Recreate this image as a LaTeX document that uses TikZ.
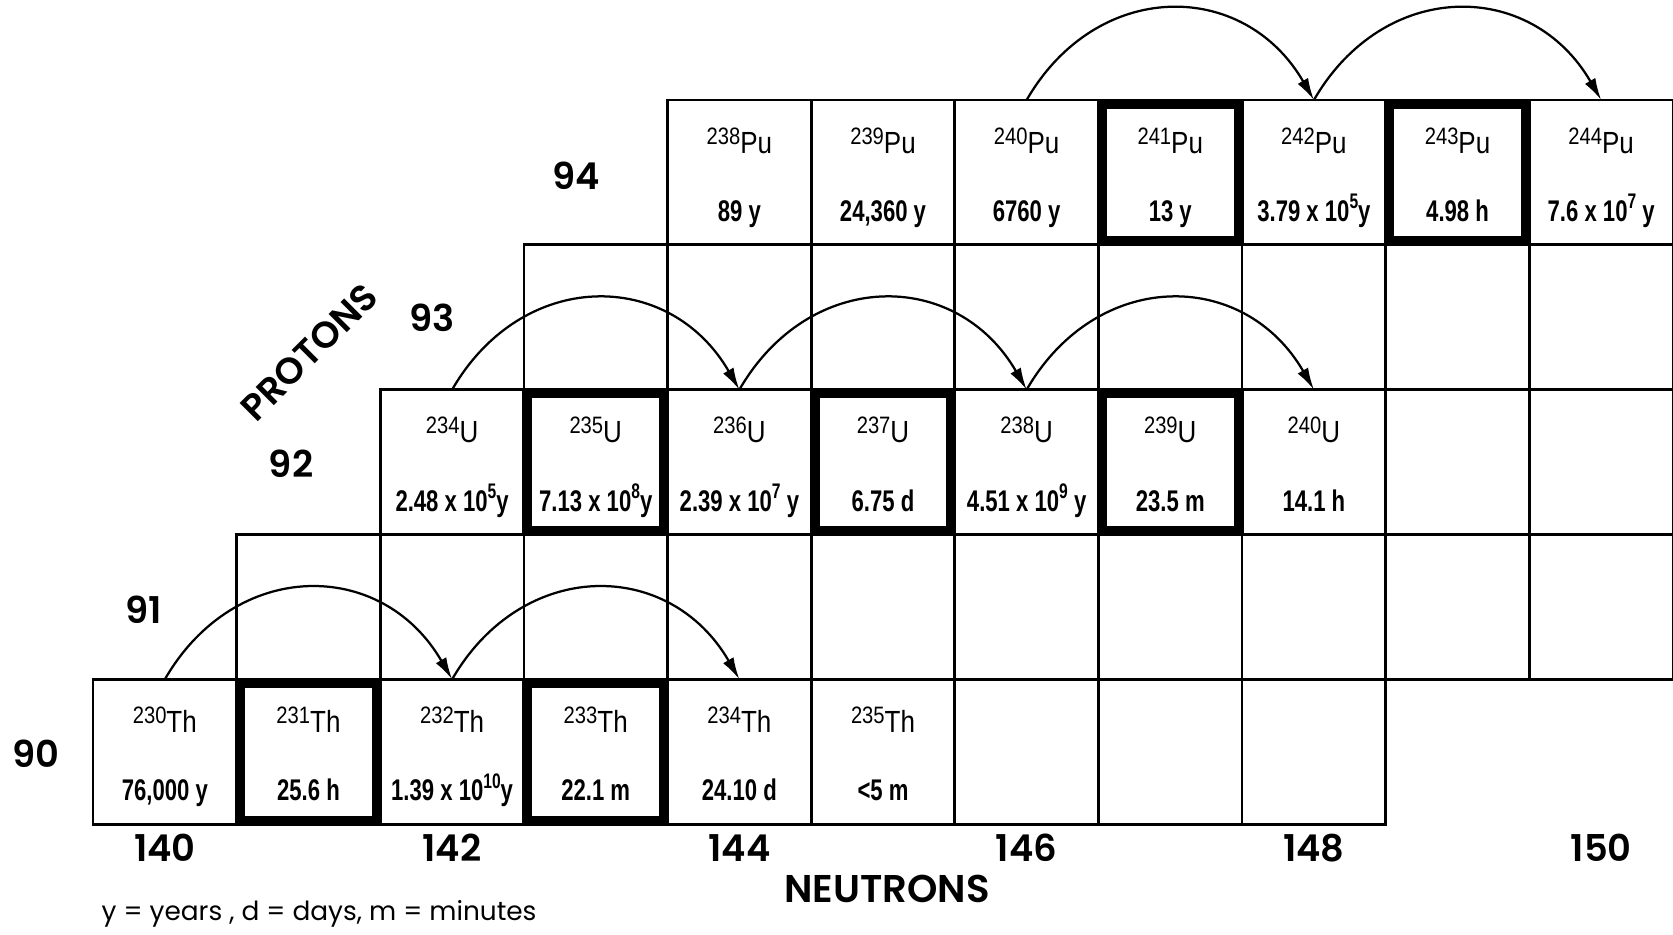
\documentclass[tikz,border=0pt]{standalone}
\usepackage{fontspec}
\setmainfont{Poppins}
\newfontfamily\axisfont{Poppins SemiBold}
\newfontfamily\isofont[FakeStretch=0.85]{Liberation Sans}
\newfontfamily\lifefont[FakeStretch=0.74]{Liberation Sans}
\usetikzlibrary{arrows.meta,positioning}

\newcommand{\massno}[1]{\raisebox{1.8mm}{\fontsize{13.5}{14}\selectfont #1}}
\newcommand{\tenpow}[1]{\raisebox{2.5mm}{\fontsize{12}{12}\selectfont #1}}

\begin{document}
\begin{tikzpicture}[
    cell/.style={rectangle, draw, line width=0.55mm, minimum width=2.872cm, minimum height=2.896cm, inner sep=0, outer sep=0},
    thickcell/.style={rectangle, draw, line width=2mm, minimum width=2.872cm-1.4mm, minimum height=2.896cm-1.4mm, inner sep=0, outer sep=0},
    iso/.style={anchor=base, inner sep=0, font=\isofont\fontsize{17.4}{18}\selectfont},
    life/.style={anchor=base, inner sep=0, font=\lifefont\bfseries\fontsize{17}{18}\selectfont},
    axisnum/.style={font=\axisfont\fontsize{21}{24}\selectfont},
    capture/.style={-{Latex[length=4.4mm,width=2.4mm]}, line width=0.45mm}
]
\useasboundingbox (-1.86,-2.2) rectangle (31.592,16.48);

% the chart, one row per element
\foreach \z/\first/\last in {90/140/148, 91/141/150, 92/142/150, 93/143/150, 94/144/150}
  \foreach \n in {\first,...,\last}
    \node[cell] (c\z-\n) at ({(\n-139.5)*2.872}, {(\z-89.5)*2.896}) {};

% odd neutron numbers get a heavy frame
\foreach \c in {90-141, 90-143, 92-143, 92-145, 92-147, 94-147, 94-149}
  \node[thickcell] (t\c) at (c\c) {};

% thorium
\foreach \n/\a/\t in {140/230/{76,000 y}, 141/231/{25.6 h}, 142/232/{1.39 x 10\tenpow{10}y},
                      143/233/{22.1 m}, 144/234/{24.10 d}, 145/235/{<5 m}} {
  \node[iso] (Th\a) at ([yshift=-1.06cm]c90-\n.north) {\massno{\a}Th};
  \node[life] (Th\a-t) at ([yshift=0.47cm]c90-\n.south) {\t};
}

% uranium
\foreach \n/\a/\t in {142/234/{2.48 x 10\tenpow{5}y}, 143/235/{7.13 x 10\tenpow{8}y}, 144/236/{2.39 x 10\tenpow{7} y},
                      145/237/{6.75 d}, 146/238/{4.51 x 10\tenpow{9} y}, 147/239/{23.5 m}, 148/240/{14.1 h}} {
  \node[iso] (U\a) at ([yshift=-1.06cm]c92-\n.north) {\massno{\a}U};
  \node[life] (U\a-t) at ([yshift=0.47cm]c92-\n.south) {\t};
}

% plutonium
\foreach \n/\a/\t in {144/238/{89 y}, 145/239/{24,360 y}, 146/240/{6760 y}, 147/241/{13 y},
                      148/242/{3.79 x 10\tenpow{5}y}, 149/243/{4.98 h}, 150/244/{7.6 x 10\tenpow{7} y}} {
  \node[iso] (Pu\a) at ([yshift=-1.06cm]c94-\n.north) {\massno{\a}Pu};
  \node[life] (Pu\a-t) at ([yshift=0.47cm]c94-\n.south) {\t};
}

% neutron captures
\draw[capture] (c90-140.north) to[out=60, in=120, looseness=1.25] (c90-142.north);
\draw[capture] (c90-142.north) to[out=60, in=120, looseness=1.25] (c90-144.north);
\draw[capture] (c92-142.north) to[out=60, in=120, looseness=1.25] (c92-144.north);
\draw[capture] (c92-144.north) to[out=60, in=120, looseness=1.25] (c92-146.north);
\draw[capture] (c92-146.north) to[out=60, in=120, looseness=1.25] (c92-148.north);
\draw[capture] (c94-146.north) to[out=60, in=120, looseness=1.25] (c94-148.north);
\draw[capture] (c94-148.north) to[out=60, in=120, looseness=1.25] (c94-150.north);

% axes
\node[axisnum] (z90) at (-1.14,1.40) {90};
\node[axisnum] (z91) at (1.02,4.28) {91};
\node[axisnum] (z92) at (3.96,7.20) {92};
\node[axisnum] (z93) at (6.78,10.12) {93};
\node[axisnum] (z94) at (9.66,12.96) {94};
\node[axisnum, rotate=45] (protons) at (4.32,9.44) {PROTONS};

\foreach \n in {140,142,...,150}
  \node[axisnum] (n\n) at ({(\n-139.5)*2.872}, -0.48) {\n};
\node[axisnum, font=\axisfont\fontsize{22}{24}\selectfont] (neutrons) at (15.88,-1.30) {NEUTRONS};

\node[anchor=west, font=\fontsize{15}{18}\selectfont] (key) at (0.05,-1.8) {y = years , d = days, m = minutes};
\end{tikzpicture}
\end{document}
